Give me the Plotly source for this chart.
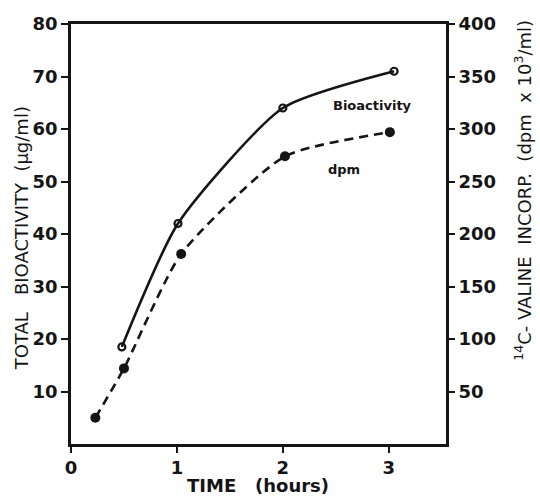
import plotly.graph_objects as go

# bioactivity (open circles, solid line) - left axis, ug/ml
bio_time = [0.48, 1.01, 2.0, 3.05]
bio_activity = [18.5, 42, 64, 71]

# 14C-valine incorporation (filled circles, dashed) - right axis, dpm x 10^3/ml
dpm_time = [0.23, 0.5, 1.04, 2.02, 3.01]
dpm_values = [25, 72, 181, 274, 297]

left_ticks = [10, 20, 30, 40, 50, 60, 70, 80]
right_ticks = [50, 100, 150, 200, 250, 300, 350, 400]
x_ticks = [0, 1, 2, 3]

ink = "#151515"
font = "DejaVu Sans"
tick_font = dict(size=18, family=font, color=ink, weight="bold")

fig = go.Figure()

fig.add_trace(go.Scatter(
    x=bio_time, y=bio_activity,
    mode="lines+markers",
    line=dict(color=ink, width=2.6, shape="spline", smoothing=0.6),
    marker=dict(symbol="circle-open", size=7, color=ink, line=dict(width=2.2)),
    showlegend=False,
))

fig.add_trace(go.Scatter(
    x=dpm_time, y=dpm_values,
    mode="lines+markers",
    line=dict(color=ink, width=2.6, dash="9px,6px", shape="spline", smoothing=0.6),
    marker=dict(symbol="circle", size=10, color=ink),
    yaxis="y2",
    showlegend=False,
))

fig.update_layout(
    width=540, height=498,
    margin=dict(l=71, r=94, t=24, b=54),
    paper_bgcolor="white", plot_bgcolor="white",
    font=dict(family=font, color=ink, size=18),
    xaxis=dict(
        range=[0, 3.54], tickvals=x_ticks, ticks="outside", ticklen=6, tickwidth=2.4,
        tickcolor=ink, showline=True, linecolor=ink, linewidth=2.6, mirror=True,
        showgrid=False, zeroline=False, tickfont=tick_font,
    ),
    yaxis=dict(
        range=[0, 80], tickvals=left_ticks, ticks="outside", ticklen=7, tickwidth=2.4,
        tickcolor=ink, showline=True, linecolor=ink, linewidth=2.6,
        showgrid=False, zeroline=False, tickfont=tick_font,
    ),
    yaxis2=dict(
        range=[0, 400], tickvals=right_ticks, ticks="outside", ticklen=6, tickwidth=2.4,
        tickcolor=ink, showline=True, linecolor=ink, linewidth=2.6,
        overlaying="y", side="right", anchor="x",
        showgrid=False, zeroline=False, tickfont=tick_font,
    ),
    annotations=[
        dict(text="Bioactivity", x=2.85, y=64.5, xref="x", yref="y", showarrow=False,
             font=dict(size=13, family=font, weight="bold")),
        dict(text="dpm", x=2.58, y=52.2, xref="x", yref="y", showarrow=False,
             font=dict(size=13, family=font, weight="bold")),
        dict(text="TOTAL   BIOACTIVITY  (\u03bcg/ml)", textangle=-90,
             x=-0.133, y=0.49, xref="paper", yref="paper",
             xanchor="center", yanchor="middle", showarrow=False,
             font=dict(size=18, family=font)),
        dict(text="<sup>14</sup>C- VALINE  INCORP.  (dpm  x 10<sup>3</sup>/ml)", textangle=-90,
             x=1.205, y=0.605, xref="paper", yref="paper",
             xanchor="center", yanchor="middle", showarrow=False,
             font=dict(size=18, family=font)),
        dict(text="<b>TIME   (hours)</b>", x=0.499, y=-0.098, xref="paper", yref="paper",
             xanchor="center", yanchor="middle", showarrow=False,
             font=dict(size=18, family=font)),
    ],
)

# the page body has a default 8px margin, drop it so the figure sits at 0,0
fig.write_html("out.html", config={"displayModeBar": False},
               post_script="document.body.style.margin = '0';")
